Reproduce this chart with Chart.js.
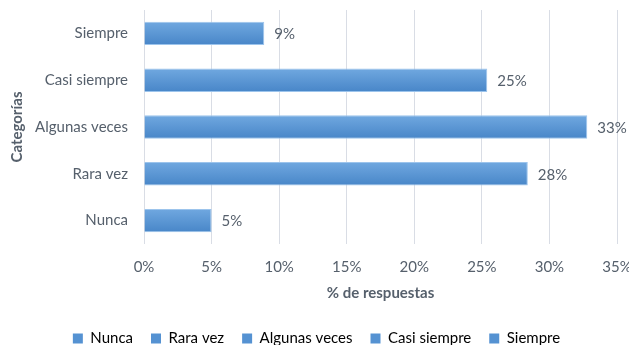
<!DOCTYPE html>
<html>
<head>
<meta charset="utf-8">
<script src="https://cdn.jsdelivr.net/npm/chart.js@4.4.1/dist/chart.umd.min.js"></script>
<style>
  html,body{margin:0;padding:0;background:#fff;}
  #wrap{width:629px;height:345px;}
</style>
</head>
<body>
<div id="wrap"><canvas id="c" width="629" height="345"></canvas></div>
<script>
// categorías (de arriba hacia abajo) y % de respuestas
const categorias = ['Siempre', 'Casi siempre', 'Algunas veces', 'Rara vez', 'Nunca'];
const porcentajes = [8.9, 25.4, 32.8, 28.4, 5.0];
const ordenLeyenda = ['Nunca', 'Rara vez', 'Algunas veces', 'Casi siempre', 'Siempre'];
const ticksX = [0, 5, 10, 15, 20, 25, 30, 35];

const FONT = 'Lato, "Open Sans", sans-serif';
const GRIS = '#56606c';
const AZUL = '#5592d2';
const GROSOR = 0.5;

// degradado vertical de cada barra, según su posición en el eje y
function relleno(c) {
  const chart = c.chart;
  const y = chart.scales.y;
  if (!y || !chart.chartArea || c.dataIndex === undefined) return AZUL;
  const centro = y.getPixelForValue(c.dataIndex);
  const h = (chart.chartArea.height / categorias.length) * GROSOR;
  const g = chart.ctx.createLinearGradient(0, centro - h / 2, 0, centro + h / 2);
  g.addColorStop(0, '#70a8e0');
  g.addColorStop(1, '#4886c8');
  return g;
}

const extras = {
  id: 'extras',
  afterLayout(chart) {
    // baja la leyenda hacia el borde inferior
    chart.legend.top += 11;
    chart.legend.bottom += 11;
    chart.legend.left += 8;
    chart.legend.right += 8;
  },
  afterDatasetsDraw(chart) {
    // etiquetas de valor al final de cada barra
    const ctx = chart.ctx;
    const meta = chart.getDatasetMeta(0);
    ctx.save();
    ctx.font = '15px ' + FONT;
    ctx.fillStyle = GRIS;
    ctx.textBaseline = 'middle';
    ctx.textAlign = 'left';
    meta.data.forEach((bar, i) => {
      ctx.fillText(Math.round(porcentajes[i]) + '%', bar.x + 10, bar.y + 1);
    });
    ctx.restore();
  }
};

new Chart(document.getElementById('c'), {
  type: 'bar',
  plugins: [extras],
  data: {
    labels: categorias,
    datasets: [{
      data: porcentajes,
      backgroundColor: relleno,
      borderColor: '#9cc4ec',
      borderWidth: 1,
      barPercentage: GROSOR,
      categoryPercentage: 1
    }]
  },
  options: {
    indexAxis: 'y',
    responsive: false,
    animation: false,
    layout: { padding: { top: 10, right: 12, left: 0, bottom: 0 } },
    scales: {
      x: {
        min: 0, max: 35,
        afterBuildTicks(s) { s.ticks = ticksX.map(v => ({ value: v })); },
        afterFit(s) { s.paddingLeft = 0; s.paddingRight = 0; s.height = 58; },
        grid: { color: '#d9dde5', lineWidth: 1, drawTicks: false },
        border: { display: false },
        ticks: {
          padding: 14,
          color: GRIS,
          font: { family: FONT, size: 15 },
          callback: v => v + '%'
        },
        title: {
          display: true,
          text: '% de respuestas',
          color: GRIS,
          font: { family: FONT, size: 15, weight: 'bold' },
          padding: { top: 0, bottom: 0 }
        }
      },
      y: {
        afterFit(s) { s.width = 144; s.paddingTop = 0; s.paddingBottom = 0; },
        grid: { display: false, drawTicks: false },
        border: { display: false },
        ticks: {
          padding: 16,
          color: GRIS,
          font: { family: FONT, size: 15 }
        },
        title: {
          display: true,
          text: 'Categorías',
          color: GRIS,
          font: { family: FONT, size: 15, weight: 'bold' },
          padding: { top: 8, bottom: 0 }
        }
      }
    },
    plugins: {
      tooltip: { enabled: false },
      legend: {
        position: 'bottom',
        maxHeight: 45,
        labels: {
          color: GRIS,
          font: { family: FONT, size: 15 },
          boxWidth: 10,
          boxHeight: 10,
          padding: 18,
          generateLabels() {
            return ordenLeyenda.map(t => ({
              text: t,
              fillStyle: AZUL,
              strokeStyle: AZUL,
              lineWidth: 0,
              hidden: false
            }));
          }
        }
      }
    }
  }
});
</script>
</body>
</html>
